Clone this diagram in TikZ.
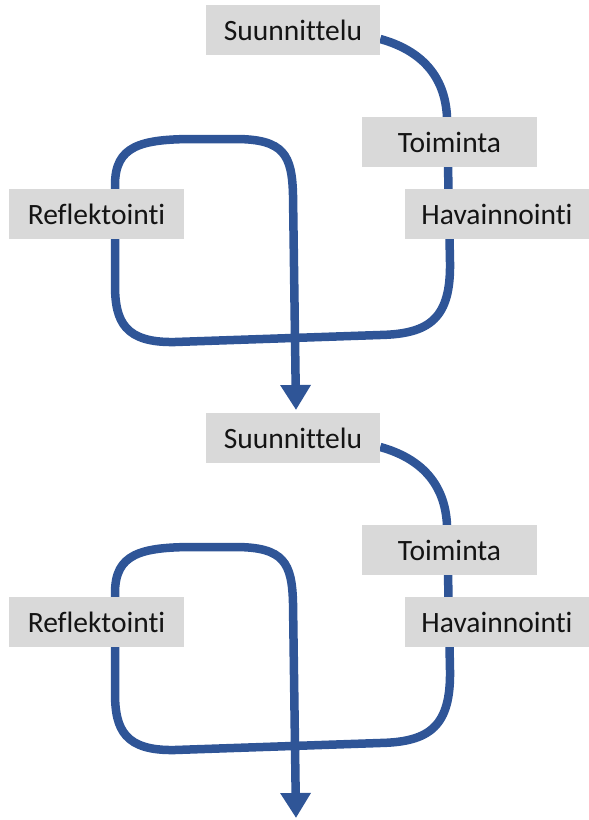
\documentclass[tikz,border=0pt]{standalone}
\usepackage{fontspec}
\setmainfont[Ligatures=NoCommon]{Carlito}
\usetikzlibrary{arrows.meta}
\pgfdeclarelayer{background}
\pgfsetlayers{background,main}
\definecolor{loopblue}{RGB}{47,85,151}
\definecolor{boxgray}{RGB}{217,217,217}
\definecolor{textdark}{RGB}{20,20,20}
\tikzset{
  phase/.style={fill=boxgray, text=textdark, inner sep=0pt, minimum height=50pt,
    font=\fontsize{29.5}{35}\selectfont},
  cycleline/.style={draw=loopblue, line width=8.5pt,
    -{Triangle[width=29pt,length=25pt]}}
}
\begin{document}
\begin{tikzpicture}[x=1pt,y=-1pt]
\useasboundingbox (0,0) rectangle (589,820);
\foreach \dy/\k in {0/1,408/2}{
  \begin{scope}[shift={(0,\dy)}]
    % the four phases of one cycle
    \node[phase, minimum width=174pt] (plan\k) at (293,30) {Suunnittelu};
    \node[phase, minimum width=175pt] (act\k) at (449.5,142) {Toiminta};
    \node[phase, minimum width=184pt] (obs\k) at (497,214) {Havainnointi};
    \node[phase, minimum width=175pt] (refl\k) at (96.5,214) {Reflektointi};
    \coordinate (end\k) at (296,410);
    % the looping path, passing behind the boxes
    \begin{pgfonlayer}{background}
      \draw[cycleline] ([yshift=-9pt]plan\k.east)
        .. controls (420,50) and (445,75) .. (447,117)
        -- (450,262)
        .. controls (451,318) and (430,334) .. (380,335)
        -- (175,342)
        .. controls (125,343) and (115,322) .. (115,285)
        -- (115,185)
        .. controls (115,146) and (140,139) .. (195,139)
        -- (235,139)
        .. controls (284,139) and (292,155) .. (293,195)
        -- (end\k);
    \end{pgfonlayer}
  \end{scope}
}
\end{tikzpicture}
\end{document}
